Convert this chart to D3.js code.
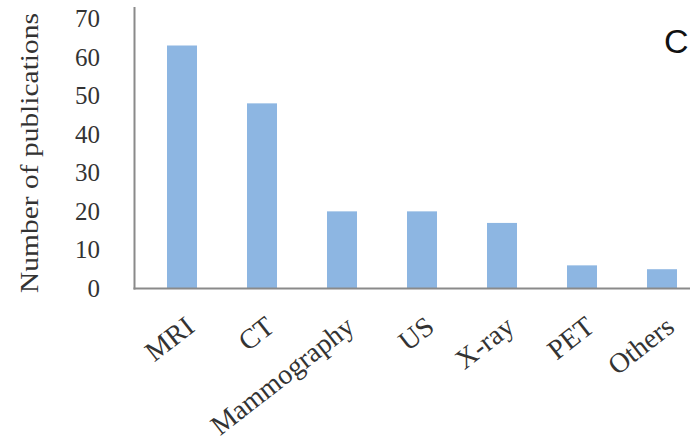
<!DOCTYPE html>
<html><head><meta charset="utf-8">
<script src="https://cdn.jsdelivr.net/npm/d3@7"></script>
<style>body{margin:0;background:#fff}svg{display:block}</style>
</head><body>
<svg id="c" width="690" height="448"></svg>
<script>
const categories = ["MRI","CT","Mammography","US","X-ray","PET","Others"];
const publications = [63,48,20,20,17,6,5];
const yTicks = [0,10,20,30,40,50,60,70];
const yTitle = "Number of publications";
const panelLabel = "C";

const svg = d3.select("#c");
const x = d3.scaleBand().domain(categories).range([142,702]).paddingInner(0.625).paddingOuter(0.3125);
const y = d3.scaleLinear().domain([0,70]).range([288.5,18.5]);
const serif = "'Liberation Serif','Times New Roman',serif";

svg.selectAll("rect.bar").data(publications).join("rect")
  .attr("class","bar")
  .attr("x",(d,i)=>x(categories[i]))
  .attr("width",x.bandwidth())
  .attr("y",d=>y(d))
  .attr("height",d=>y(0)-y(d))
  .attr("fill","#8db6e2");

// axis lines
svg.append("line").attr("x1",134.5).attr("x2",134.5).attr("y1",7).attr("y2",y(0)+1)
  .attr("stroke","#8a8a8a").attr("stroke-width",2);
svg.append("line").attr("x1",133.5).attr("x2",690).attr("y1",y(0)).attr("y2",y(0))
  .attr("stroke","#8a8a8a").attr("stroke-width",2);

// y tick labels
const yAxis = d3.axisLeft(y).tickValues(yTicks).tickSize(0).tickPadding(0);
const gy = svg.append("g").attr("transform","translate(100,0)").call(yAxis);
gy.select(".domain").remove();
gy.selectAll("text").attr("font-family",serif).attr("font-size",25).attr("fill","#333");

// y title
svg.append("text").attr("transform","translate(38,153) rotate(-90)")
  .attr("text-anchor","middle").attr("font-family",serif).attr("font-size",25).attr("fill","#333")
  .attr("textLength",280).attr("lengthAdjust","spacingAndGlyphs")
  .text(yTitle);

// x labels
svg.selectAll("text.xl").data(categories).join("text").attr("class","xl")
  .attr("transform",d=>`translate(${x(d)+x.bandwidth()/2+14},330) rotate(-38)`)
  .attr("text-anchor","end").attr("font-family",serif).attr("font-size",28).attr("fill","#333")
  .text(d=>d);

// panel label
svg.append("text").attr("x",664).attr("y",53).attr("font-family","'Liberation Sans',Arial,sans-serif")
  .attr("font-size",34).attr("fill","#111").text(panelLabel);
</script>
</body></html>
